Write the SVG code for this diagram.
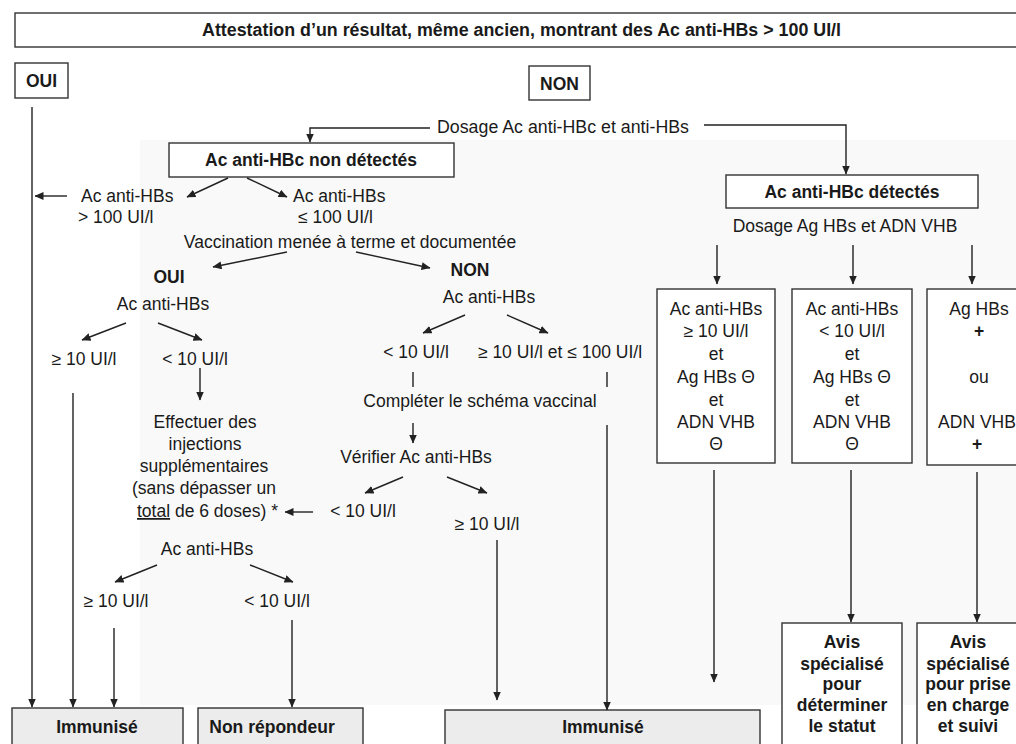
<svg xmlns="http://www.w3.org/2000/svg" width="1016" height="744" viewBox="0 0 1016 744">
<defs>
<marker id="ah" markerWidth="9" markerHeight="8" refX="8.5" refY="4" orient="auto" markerUnits="userSpaceOnUse">
<path d="M0,0 L9,4 L0,8 Z" fill="#222"/>
</marker>
<style>
text{font-family:"Liberation Sans",Arial,sans-serif;font-size:17.5px;fill:#1a1a1a}
.b{font-weight:bold}
.m{text-anchor:middle}
.box{fill:#fff;stroke:#333;stroke-width:1.4}
.gbox{fill:#ececec;stroke:#333;stroke-width:1.4}
.ln{stroke:#222;stroke-width:1.4;fill:none}
.ar{stroke:#222;stroke-width:1.4;fill:none;marker-end:url(#ah)}
</style>
</defs>
<rect width="1016" height="744" fill="#fff"/>
<rect x="140" y="140" width="876" height="565" fill="#f9f9f9"/>

<g id="title">
<rect class="box" x="15" y="13" width="1020" height="34"/>
<text class="b" x="202" y="36" font-size="15" textLength="639" lengthAdjust="spacingAndGlyphs">Attestation d’un résultat, même ancien, montrant des Ac anti-HBs &gt; 100 UI/l</text>
</g>
<g id="oui">
<rect class="box" x="15" y="63" width="53" height="35"/>
<text class="b m" x="41.5" y="87" font-size="16">OUI</text>
</g>
<g id="non">
<rect class="box" x="529" y="66" width="61" height="34"/>
<text class="b m" x="559.5" y="90" font-size="16">NON</text>
</g>
<g id="dosage1"><text x="437" y="133" textLength="252" lengthAdjust="spacingAndGlyphs">Dosage Ac anti-HBc et anti-HBs</text></g>

<g id="nondetectes">
<rect class="box" x="169" y="143" width="285" height="34"/>
<text class="b m" x="311" y="166">Ac anti-HBc non détectés</text>
</g>
<g id="detectes">
<rect class="box" x="726" y="175" width="252" height="33"/>
<text class="b m" x="852" y="198">Ac anti-HBc détectés</text>
</g>
<g id="dosage2"><text class="m" x="845" y="232">Dosage Ag HBs et ADN VHB</text></g>

<g id="hbs-sup100"><text x="81" y="202">Ac anti-HBs</text><text x="78" y="223">&gt; 100 UI/l</text></g>
<g id="hbs-inf100"><text x="293" y="202">Ac anti-HBs</text><text x="298" y="223">≤ 100 UI/l</text></g>
<g id="vaccination"><text class="m" x="350" y="248">Vaccination menée à terme et documentée</text></g>
<g id="vac-oui"><text class="b m" x="169" y="283">OUI</text><text class="m" x="163" y="310">Ac anti-HBs</text></g>
<g id="vac-non"><text class="b m" x="470" y="276">NON</text><text class="m" x="489" y="303">Ac anti-HBs</text></g>
<g id="oui-ge10"><text class="m" x="84" y="365">≥ 10 UI/l</text></g>
<g id="oui-lt10"><text class="m" x="195" y="365">&lt; 10 UI/l</text></g>
<g id="non-lt10"><text class="m" x="416" y="358">&lt; 10 UI/l</text></g>
<g id="non-ge10"><text class="m" x="560" y="358">≥ 10 UI/l et ≤ 100 UI/l</text></g>
<g id="completer"><text class="m" x="480" y="407">Compléter le schéma vaccinal</text></g>
<g id="verifier"><text class="m" x="416" y="463">Vérifier Ac anti-HBs</text></g>
<g id="effectuer">
<text class="m" x="205" y="428">Effectuer des</text>
<text class="m" x="205" y="450">injections</text>
<text class="m" x="204" y="472">supplémentaires</text>
<text class="m" x="204" y="494">(sans dépasser un</text>
<text x="137" y="517"><tspan text-decoration="underline">total</tspan> de 6 doses) *</text>
</g>
<g id="ver-lt10"><text class="m" x="363" y="517">&lt; 10 UI/l</text></g>
<g id="ver-ge10"><text class="m" x="487" y="530">≥ 10 UI/l</text></g>
<g id="hbs-after"><text class="m" x="207" y="555">Ac anti-HBs</text></g>
<g id="after-ge10"><text class="m" x="116" y="607">≥ 10 UI/l</text></g>
<g id="after-lt10"><text class="m" x="277" y="607">&lt; 10 UI/l</text></g>

<g id="box-a">
<rect class="box" x="657" y="289" width="118" height="174"/>
<text class="m" x="716" y="315">Ac anti-HBs</text>
<text class="m" x="716" y="337">≥ 10 UI/l</text>
<text class="m" x="716" y="360">et</text>
<text class="m" x="716" y="383">Ag HBs Θ</text>
<text class="m" x="716" y="406">et</text>
<text class="m" x="716" y="428">ADN VHB</text>
<text class="m" x="716" y="450">Θ</text>
</g>
<g id="box-b">
<rect class="box" x="792" y="289" width="120" height="174"/>
<text class="m" x="852" y="315">Ac anti-HBs</text>
<text class="m" x="852" y="337">&lt; 10 UI/l</text>
<text class="m" x="852" y="360">et</text>
<text class="m" x="852" y="383">Ag HBs Θ</text>
<text class="m" x="852" y="406">et</text>
<text class="m" x="852" y="428">ADN VHB</text>
<text class="m" x="852" y="450">Θ</text>
</g>
<g id="box-c">
<rect class="box" x="927" y="289" width="110" height="176"/>
<text class="m" x="979" y="315">Ag HBs</text>
<text class="m b" x="979" y="337">+</text>
<text class="m" x="979" y="383">ou</text>
<text class="m" x="977" y="428">ADN VHB</text>
<text class="m b" x="977" y="450">+</text>
</g>

<g id="immunise1">
<rect class="gbox" x="12" y="708" width="171" height="45"/>
<text class="b m" x="97" y="733">Immunisé</text>
</g>
<g id="nonrepondeur">
<rect class="gbox" x="198" y="708" width="165" height="45"/>
<text class="b m" x="272" y="733">Non répondeur</text>
</g>
<g id="immunise2">
<rect class="gbox" x="445" y="710" width="315" height="45"/>
<text class="b m" x="603" y="733">Immunisé</text>
</g>
<g id="avis1">
<rect class="box" x="782" y="623" width="120" height="130"/>
<text class="b m" x="842" y="648">Avis</text>
<text class="b m" x="842" y="670">spécialisé</text>
<text class="b m" x="842" y="690">pour</text>
<text class="b m" x="842" y="711">déterminer</text>
<text class="b m" x="842" y="732">le statut</text>
</g>
<g id="avis2">
<rect class="box" x="917" y="623" width="120" height="130"/>
<text class="b m" x="968" y="648">Avis</text>
<text class="b m" x="968" y="670">spécialisé</text>
<text class="b m" x="968" y="690">pour prise</text>
<text class="b m" x="968" y="711">en charge</text>
<text class="b m" x="968" y="732">et suivi</text>
</g>

<g id="connectors">
<line class="ar" x1="32" y1="107" x2="32" y2="707"/>
<polyline class="ar" points="430,128 310,128 310,142"/>
<polyline class="ar" points="704,125 846,125 846,174"/>
<line class="ar" x1="228" y1="178" x2="187" y2="197"/>
<line class="ar" x1="247" y1="178" x2="287" y2="197"/>
<line class="ar" x1="67" y1="196" x2="35" y2="196"/>
<line class="ar" x1="287" y1="252" x2="213" y2="267"/>
<line class="ar" x1="356" y1="252" x2="430" y2="268"/>
<line class="ar" x1="126" y1="323" x2="82" y2="340"/>
<line class="ar" x1="158" y1="323" x2="202" y2="340"/>
<line class="ar" x1="465" y1="315" x2="423" y2="333"/>
<line class="ar" x1="507" y1="315" x2="548" y2="333"/>
<line class="ar" x1="200" y1="368" x2="200" y2="400"/>
<line class="ar" x1="73" y1="393" x2="73" y2="707"/>
<line class="ln" x1="413" y1="372" x2="413" y2="387"/>
<line class="ln" x1="607" y1="372" x2="607" y2="387"/>
<line class="ar" x1="413" y1="423" x2="413" y2="443"/>
<line class="ar" x1="607" y1="425" x2="607" y2="710"/>
<line class="ar" x1="403" y1="477" x2="365" y2="493"/>
<line class="ar" x1="447" y1="477" x2="487" y2="493"/>
<line class="ar" x1="313" y1="512" x2="285" y2="512"/>
<line class="ar" x1="497" y1="540" x2="497" y2="700"/>
<line class="ar" x1="157" y1="565" x2="115" y2="582"/>
<line class="ar" x1="250" y1="565" x2="293" y2="582"/>
<line class="ar" x1="114" y1="628" x2="114" y2="707"/>
<line class="ar" x1="292" y1="620" x2="292" y2="707"/>
<line class="ar" x1="717" y1="245" x2="717" y2="284"/>
<line class="ar" x1="853" y1="245" x2="853" y2="284"/>
<line class="ar" x1="972" y1="245" x2="972" y2="284"/>
<line class="ar" x1="714" y1="470" x2="714" y2="682"/>
<line class="ar" x1="851" y1="470" x2="851" y2="622"/>
<line class="ar" x1="977" y1="472" x2="977" y2="622"/>
</g>
</svg>
